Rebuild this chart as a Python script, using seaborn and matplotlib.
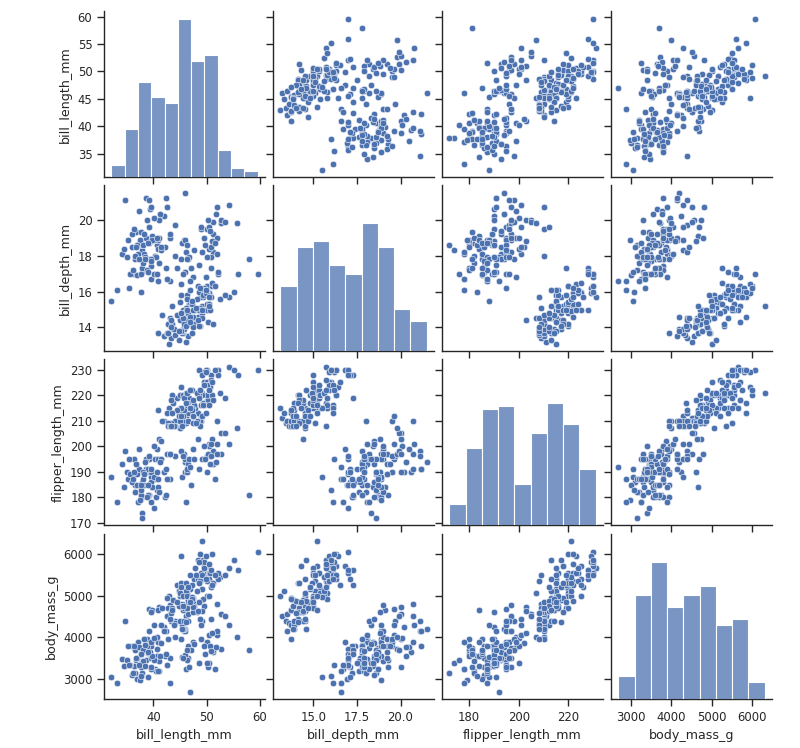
import io
import numpy as np
import pandas as pd
import seaborn as sns
import matplotlib
matplotlib.use("Agg")
import matplotlib.pyplot as plt
from matplotlib.ticker import MultipleLocator

columns = ["bill_length_mm", "bill_depth_mm", "flipper_length_mm", "body_mass_g"]

adelie = """39.1,18.7,181,3750
39.5,17.4,186,3800
40.3,18.0,195,3250
36.7,19.3,193,3450
39.3,20.6,190,3650
38.9,17.8,181,3625
39.2,19.6,195,4675
34.1,18.1,193,3475
42.0,20.2,190,4250
37.8,17.1,186,3300
37.8,17.3,180,3700
41.1,17.6,182,3200
38.6,21.2,191,3800
34.6,21.1,198,4400
36.6,17.8,185,3700
38.7,19.0,195,3450
42.5,20.7,197,4500
34.4,18.4,184,3325
46.0,21.5,194,4200
37.8,18.3,174,3400
37.7,18.7,180,3600
35.9,19.2,189,3800
38.2,18.1,185,3950
38.8,17.2,180,3800
35.3,18.9,187,3800
40.6,18.6,183,3550
40.5,17.9,187,3200
37.9,18.6,172,3150
40.5,18.9,180,3950
39.5,16.7,178,3250
37.2,18.1,178,3900
39.5,17.8,188,3300
40.9,18.9,184,3900
36.4,17.0,195,3325
39.2,21.1,196,4150
38.8,20.0,190,3950
42.2,18.5,180,3550
37.6,19.3,181,3300
39.8,19.1,184,4650
36.5,18.0,182,3150
40.8,18.4,195,3900
36.0,18.5,186,3100
44.1,19.7,196,4400
37.0,16.9,185,3000
39.6,18.8,190,4600
41.1,19.0,182,3425
37.5,18.9,179,2975
42.3,21.2,191,4150
39.6,17.7,186,3500
40.1,18.9,188,4300
43.2,19.0,197,4775
35.0,17.9,190,3450
41.0,20.0,203,4725
37.7,16.0,183,3075
45.8,18.9,197,4150
32.1,15.5,188,3050
33.1,16.1,178,2900
40.2,17.0,176,3450
35.7,17.0,189,3350
36.2,17.2,187,3150
41.5,18.3,195,4300
40.7,17.0,190,3725
38.1,17.6,187,3425
39.7,18.9,184,3550
37.3,20.5,199,3775
40.6,19.0,199,4000
36.9,18.6,189,3500
41.4,18.5,202,3875
38.5,17.9,190,3325
44.1,18.0,210,4000
39.0,17.1,191,3050
43.1,19.2,197,3500
37.3,17.8,191,3350
41.3,20.3,194,3550
36.3,19.5,190,3800
39.6,20.7,191,3900
38.1,18.6,190,3700
36.8,18.5,193,3500
38.3,19.2,189,3950
37.6,17.0,185,3600
39.0,18.7,185,3650
35.5,16.2,195,3350
40.2,20.1,200,3975
38.4,17.8,194,3825"""

chinstrap = """46.5,17.9,192,3500
50.0,19.5,196,3900
51.3,19.2,193,3650
45.4,18.7,188,3525
52.7,19.8,197,3725
45.2,17.8,198,3950
46.1,18.2,178,3250
51.3,18.2,197,3750
46.0,18.9,195,4150
51.3,19.9,198,3700
46.6,17.8,193,3800
51.7,20.3,194,3775
47.0,17.3,185,3700
52.0,18.1,201,4050
45.9,17.1,190,3575
50.5,19.6,201,4050
50.3,20.0,197,3300
58.0,17.8,181,3700
46.4,18.6,190,3450
49.2,18.2,195,4400
42.4,17.3,181,3600
48.5,17.5,191,3400
43.2,16.6,187,2900
50.6,19.4,193,3800
46.7,17.9,195,3300
52.0,19.0,197,4150
50.5,18.4,200,3400
49.5,19.0,200,3800
46.4,17.8,191,3700
52.8,20.0,205,4550
40.9,16.6,187,3200
54.2,20.8,201,4300
42.5,16.7,187,3350
51.0,18.8,203,4100
49.7,18.6,195,3600
47.5,16.8,199,3900
47.6,18.3,195,3850
52.0,20.7,210,4800
46.9,16.6,192,2700
53.5,19.9,205,4500
49.0,19.5,210,3950
45.5,17.0,196,3500
50.9,17.9,196,3675
50.8,18.5,201,4450
50.1,17.9,190,3400
49.0,19.6,212,4300
51.5,18.7,187,3250
55.8,19.8,207,4000"""

gentoo = """46.1,13.2,211,4500
50.0,16.3,230,5700
48.7,14.1,210,4450
50.0,15.2,218,5700
47.6,14.5,215,5400
46.5,13.5,210,4550
45.4,14.6,211,4800
46.7,15.3,219,5200
43.3,13.4,209,4400
46.8,15.4,215,5150
40.9,13.7,214,4650
49.0,16.1,216,5550
45.5,13.7,214,4650
48.4,14.6,213,5850
45.8,14.6,210,4200
49.3,15.7,217,5850
42.0,13.5,210,4150
49.2,15.2,221,6300
46.2,14.5,209,4800
48.7,15.1,222,5350
50.2,14.3,218,5700
45.1,14.5,215,5000
46.5,14.5,213,4400
46.3,15.8,215,5050
42.9,13.1,215,5000
46.1,15.1,215,5100
47.8,15.0,215,5650
48.2,14.3,210,4600
50.0,15.3,220,5550
47.3,15.3,222,5250
42.8,14.2,209,4700
45.1,14.5,207,5050
59.6,17.0,230,6050
49.1,14.8,220,5150
48.4,16.3,220,5400
42.6,13.7,213,4950
44.4,17.3,219,5250
44.0,13.6,208,4350
48.7,15.7,208,5350
42.7,13.7,208,3950
49.6,16.0,225,5700
45.3,13.7,210,4300
49.6,15.0,216,4750
50.5,15.9,222,5550
43.6,13.9,217,4900
45.5,13.9,210,4200
50.5,15.9,225,5400
44.9,13.3,213,5100
45.2,15.8,215,5300
46.6,14.2,210,4850
48.5,14.1,220,5300
45.1,14.4,210,4400
50.1,15.0,225,5000
46.5,14.4,217,4900
45.0,15.4,220,5050
43.8,13.9,208,4300
45.5,15.0,220,5000
43.2,14.5,208,4450
50.4,15.3,224,5550
45.3,13.8,208,4200
46.2,14.9,221,5300
45.7,13.9,214,4400
54.3,15.7,231,5650
45.8,14.2,219,4700
49.8,16.8,230,5700
49.5,16.2,229,5800
43.5,14.2,220,4700
50.7,15.0,223,5550
47.7,15.0,216,4750
46.4,15.6,221,5000
48.2,15.6,221,5100
46.5,14.8,217,5200
46.4,15.0,216,4700
48.6,16.0,230,5800
47.5,14.2,209,4600
51.1,16.3,220,6000
45.2,13.8,215,4750
45.2,16.4,223,5950
49.1,14.5,212,4625
52.5,15.6,221,5450
47.4,14.6,212,4725
50.0,15.9,224,5350
44.9,13.8,212,4750
50.8,17.3,228,5600
43.4,14.4,218,4600
51.3,14.2,218,5300
47.5,14.0,212,4875
52.1,17.0,230,5550
47.5,15.0,218,4950
52.2,17.1,228,5400
45.5,14.5,212,4750
49.5,16.1,224,5650
44.5,14.7,214,4850
50.8,15.7,226,5200
49.4,15.8,216,4925
46.9,14.6,222,4875
48.4,14.4,203,4625
51.1,16.5,225,5250
48.5,15.0,219,4850
55.9,17.0,228,5600
47.2,15.5,215,4975
49.1,15.0,228,5500
46.8,16.1,215,5500
41.7,14.7,210,4700
53.4,15.8,219,5500
43.3,14.0,208,4575
48.1,15.1,209,5500
50.5,15.2,216,5000
49.8,15.9,229,5950
43.5,15.2,213,4650
51.5,16.3,230,5500
46.2,14.1,217,4375
55.1,16.0,230,5850
48.8,16.2,222,6000
47.2,13.7,214,4925
46.8,14.3,215,4850
50.4,15.7,222,5750
45.2,14.8,212,5200
49.9,16.1,213,5400"""

y_steps = [5, 2, 10, 1000]
x_steps = [10, 2.5, 20, 1000]

frames = [pd.read_csv(io.StringIO(t), header=None, names=columns) for t in (adelie, chinstrap, gentoo)]
df = pd.concat(frames, ignore_index=True)

sns.set_theme(style="ticks", context="paper", font_scale=0.95)
g = sns.pairplot(df, height=1.85, aspect=1.07, plot_kws=dict(s=22))
g.figure.set_size_inches(8, 7.48)
for i in range(4):
    g.axes[i, 0].yaxis.set_major_locator(MultipleLocator(y_steps[i]))
    g.axes[3, i].xaxis.set_major_locator(MultipleLocator(x_steps[i]))
g.figure.subplots_adjust(left=0.13, right=0.965, bottom=0.065, top=0.985, wspace=0.05, hspace=0.05)
g.figure.savefig("out.png", dpi=100)
